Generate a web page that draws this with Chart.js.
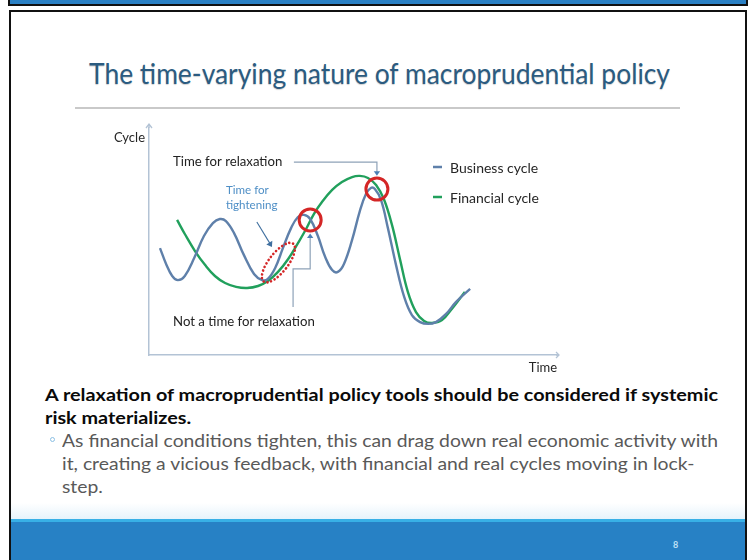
<!DOCTYPE html>
<html><head><meta charset="utf-8">
<script src="https://cdn.jsdelivr.net/npm/chart.js@4.4.0/dist/chart.umd.min.js"></script>
<style>
html,body{margin:0;padding:0;background:#fff;width:753px;height:560px;overflow:hidden;font-family:Lato,'Open Sans',sans-serif;}
#slide{position:relative;width:753px;height:560px;}
.topband{position:absolute;left:8px;top:-2px;width:740px;height:8px;box-sizing:border-box;background:#2a80c4;border:2px solid #111;}
.frame{position:absolute;left:9px;top:10px;width:738px;height:560px;box-sizing:border-box;border:2px solid #111;border-bottom:none;}
.fgrad{position:absolute;left:11px;top:503px;width:734px;height:16px;background:linear-gradient(#ffffff,#e6f3fb);}
.fline{position:absolute;left:11px;top:519px;width:734px;height:3px;background:#38b0e6;}
.fbar{position:absolute;left:11px;top:522px;width:734px;height:38px;background:#2781c5;}
.pn{position:absolute;left:673px;top:539px;font:bold 9px Lato,sans-serif;color:#bfe0f6;}
.t{position:absolute;white-space:nowrap;transform-origin:0 0;display:inline-block;}
.title{left:89px;top:59px;font-size:28px;line-height:28px;color:#2b5b80;text-shadow:0 1px 1px rgba(0,0,0,0.18);}
.sep{position:absolute;left:75px;top:107px;width:605px;height:2px;background:#c9c9c9;}
.b{left:45px;font-size:17.5px;line-height:23px;font-weight:bold;color:#0a0a0a;}
.n{left:62px;font-size:17px;line-height:23px;color:#595959;}
.bul{position:absolute;left:50px;top:437px;width:3px;height:3px;border:1px solid #8cc0e4;border-radius:50%;}
canvas{position:absolute;left:0;top:0;}
</style>
</head><body>
<div id="slide">
 <div class="topband"></div>
 <div class="frame"></div>
 <div class="fgrad"></div><div class="fline"></div><div class="fbar"></div>
 <div class="pn">8</div>
 <div class="t title" data-w="581" data-g="t">The time-varying nature of macroprudential policy</div>
 <div class="sep"></div>
 <div class="t b" style="top:383px" data-w="673" data-g="b">A relaxation of macroprudential policy tools should be considered if systemic</div>
 <div class="t b" style="top:406px" data-g="b">risk materializes.</div>
 <div class="bul"></div>
 <div class="t n" style="top:429px" data-w="656" data-g="n">As financial conditions tighten, this can drag down real economic activity with</div>
 <div class="t n" style="top:452px" data-g="n">it, creating a vicious feedback, with financial and real cycles moving in lock-</div>
 <div class="t n" style="top:475px" data-g="n">step.</div>
 <canvas id="c" width="753" height="560"></canvas>
</div>
<script>
// ---- data (time units 0-100, cycle level 0-100) ----
const seriesNames = ['Business cycle', 'Financial cycle'];
const businessTime  = [2.7,4.2,5.7,7.1,8.8,11.1,13.5,15.7,17.4,18.9,20.9,23.3,25.8,27.8,29.2,31.0,32.9,34.9,36.6,38.1,39.6,41.5,43.2,45.0,46.4,47.9,49.9,51.8,53.3,54.5,55.5,57.0,58.7,60.7,62.7,64.6,66.6,68.6,70.5,73.0,75.4,78.9];
const businessLevel = [47.1,40.1,34.8,33.0,34.8,42.7,52.4,58.1,59.9,59.0,53.7,44.1,35.7,33.0,33.5,38.3,47.1,55.9,60.8,61.7,59.9,52.4,43.6,37.4,36.6,40.1,50.7,63.4,70.9,73.6,73.1,68.3,55.9,39.6,25.6,17.6,14.5,13.7,14.5,18.1,23.3,29.1];
const financialTime  = [6.9,8.8,11.3,13.8,16.2,18.7,21.4,24.1,26.8,29.2,31.7,34.2,36.6,38.6,40.5,42.5,45.0,47.4,49.9,51.8,53.8,55.8,57.7,59.7,61.7,63.6,65.6,67.6,69.5,72.0,74.4,77.6];
const financialLevel = [59.5,53.3,45.8,39.6,34.8,31.7,30.0,29.5,30.4,32.6,36.6,42.3,49.3,55.5,62.1,67.4,72.7,76.2,78.4,78.9,78.0,74.9,68.7,57.3,41.9,27.8,18.9,15.0,14.1,15.4,20.3,27.8];
const axisLabels = ['Cycle', 'Time'];
const annotationTexts = ['Time for relaxation', 'Not a time for relaxation', 'Time for', 'tightening'];

const BLUE = '#5f80aa', GREEN = '#21a05c', AXIS = '#b3c3d5', RED = '#d42626', CONN = '#8ea2b8', HEAD = '#4a7fb5';

function fit(){
  const groups = {};
  document.querySelectorAll('[data-w]').forEach(el=>{
    const w = el.getBoundingClientRect().width;
    groups[el.dataset.g] = (+el.dataset.w)/w;
  });
  document.querySelectorAll('[data-g]').forEach(el=>{
    el.style.transform = 'scaleX(' + groups[el.dataset.g] + ')';
  });
}

function head(ctx, x0, y0, x1, y1, s){
  const a = Math.atan2(y1-y0, x1-x0);
  ctx.beginPath();
  ctx.moveTo(x1, y1);
  ctx.lineTo(x1 - s*Math.cos(a) + s*0.7*Math.sin(a), y1 - s*Math.sin(a) - s*0.7*Math.cos(a));
  ctx.lineTo(x1 - s*Math.cos(a) - s*0.7*Math.sin(a), y1 - s*Math.sin(a) + s*0.7*Math.cos(a));
  ctx.closePath(); ctx.fill();
}

const deco = {
  id: 'deco',
  afterDatasetsDraw(chart){
    const {ctx, chartArea:a, scales:{x, y}} = chart;
    const X = v => x.getPixelForValue(v), Y = v => y.getPixelForValue(v);
    ctx.save();
    // axis arrows
    ctx.strokeStyle = AXIS; ctx.lineWidth = 1.3;
    ctx.beginPath();
    ctx.moveTo(a.left, a.top); ctx.lineTo(a.left, a.top-4);
    ctx.moveTo(a.left-3, a.top); ctx.lineTo(a.left, a.top-4); ctx.lineTo(a.left+3, a.top);
    ctx.moveTo(a.right, a.bottom); ctx.lineTo(a.right+3, a.bottom);
    ctx.moveTo(a.right, a.bottom-3); ctx.lineTo(a.right+3, a.bottom); ctx.lineTo(a.right, a.bottom+3);
    ctx.stroke();
    // axis labels
    ctx.fillStyle = '#262626'; ctx.font = '13px Lato, sans-serif'; ctx.textBaseline = 'middle';
    ctx.textAlign = 'right'; ctx.fillText(axisLabels[0], a.left-4, a.top+10);
    ctx.textAlign = 'center'; ctx.fillText(axisLabels[1], a.right-13, a.bottom+13);
    // legend from datasets
    ctx.textAlign = 'left'; ctx.font = '14px Lato, sans-serif'; ctx.fillStyle = '#262626';
    chart.data.datasets.forEach((ds, i) => {
      const ly = 167 + i*30;
      ctx.strokeStyle = ds.borderColor; ctx.lineWidth = 2.5;
      ctx.beginPath(); ctx.moveTo(433, ly); ctx.lineTo(442, ly); ctx.stroke();
      ctx.fillText(ds.label, 450, ly+1);
    });
    // "Time for relaxation" annotation
    ctx.font = '13.2px Lato, sans-serif'; ctx.fillStyle = '#222';
    ctx.fillText(annotationTexts[0], X(5.9), Y(85.0));
    ctx.strokeStyle = CONN; ctx.lineWidth = 1.2;
    ctx.beginPath(); ctx.moveTo(X(35.6), Y(85.0)); ctx.lineTo(X(56.0), Y(85.0)); ctx.lineTo(X(56.0), Y(80.5)); ctx.stroke();
    ctx.fillStyle = HEAD; head(ctx, X(56.0), Y(82), X(56.0), Y(79.0), 4.5);
    // "Not a time for relaxation"
    ctx.fillStyle = '#222';
    ctx.fillText(annotationTexts[1], X(5.9), Y(14.5));
    ctx.beginPath(); ctx.moveTo(X(35.4), Y(21.1)); ctx.lineTo(X(35.4), Y(37.9)); ctx.lineTo(X(39.6), Y(37.9)); ctx.lineTo(X(39.6), Y(52.0)); ctx.stroke();
    ctx.fillStyle = HEAD; head(ctx, X(39.6), Y(50), X(39.6), Y(53.5), 4.5);
    // "Time for tightening"
    ctx.fillStyle = '#4f8fc6'; ctx.font = '11.6px Lato, sans-serif';
    ctx.fillText(annotationTexts[2], X(18.9), Y(72.7));
    ctx.fillText(annotationTexts[3], X(18.9), Y(66.1));
    ctx.strokeStyle = '#3f6f9f'; ctx.lineWidth = 1.1;
    ctx.beginPath(); ctx.moveTo(X(26.5), Y(58.6)); ctx.lineTo(X(30.0), Y(48.3)); ctx.stroke();
    ctx.fillStyle = '#3f6f9f'; head(ctx, X(26.5), Y(58.6), X(30.2), Y(47.6), 5);
    // red circles
    ctx.strokeStyle = RED; ctx.lineWidth = 3;
    [[39.6, 59.5], [56.0, 73.1]].forEach(([t, v]) => {
      ctx.beginPath(); ctx.arc(X(t), Y(v), 11, 0, Math.PI*2); ctx.stroke();
    });
    // dotted ellipse
    ctx.lineWidth = 2.6; ctx.setLineDash([0.1, 3.8]); ctx.lineCap = 'round';
    ctx.beginPath(); ctx.ellipse(X(31.8), Y(40.7), 9.5, 24, 38*Math.PI/180, 0, Math.PI*2); ctx.stroke();
    ctx.restore();
  }
};

function build(){
  fit();
  const mk = (t, v) => t.map((tt, i) => ({x: tt, y: v[i]}));
  new Chart(document.getElementById('c'), {
    type: 'line',
    data: {datasets: [
      {label: seriesNames[0], data: mk(businessTime, businessLevel), borderColor: BLUE, borderWidth: 2.4, pointRadius: 0, tension: 0.4, fill: false, order: 0},
      {label: seriesNames[1], data: mk(financialTime, financialLevel), borderColor: GREEN, borderWidth: 2.4, pointRadius: 0, tension: 0.4, fill: false, order: 1}
    ]},
    options: {
      responsive: false, animation: false, devicePixelRatio: 1, events: [],
      layout: {padding: {left: 149, right: 197, top: 128, bottom: 205}},
      plugins: {legend: {display: false}, tooltip: {enabled: false}, title: {display: false}},
      scales: {
        x: {type: 'linear', min: 0, max: 100, ticks: {display: false}, grid: {display: false, drawTicks: false}, border: {display: true, color: AXIS, width: 1.5}},
        y: {type: 'linear', min: 0, max: 100, ticks: {display: false}, grid: {display: false, drawTicks: false}, border: {display: true, color: AXIS, width: 1.5}}
      }
    },
    plugins: [deco]
  });
}
if (document.fonts && document.fonts.load) {
  Promise.all([document.fonts.load('17px Lato'), document.fonts.load('bold 17px Lato')]).then(build, build);
} else build();
</script>
</body></html>
